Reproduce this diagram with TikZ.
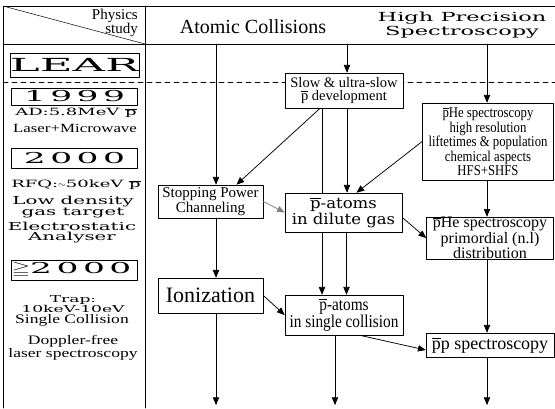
\documentclass[tikz,border=0pt]{standalone}
\usepackage{amssymb,amsmath}
\usepackage{fontspec}
\setmainfont{Liberation Serif}
\newfontfamily\narrowrm[FakeStretch=0.85]{Liberation Serif}
\newfontfamily\widerm[FakeStretch=1.35]{Liberation Serif}
\newfontfamily\midfont[FakeStretch=1.1]{DejaVu Serif}
\newfontfamily\widefont[FakeStretch=1.8]{DejaVu Serif}
\newfontfamily\yearfont[FakeStretch=2.5]{DejaVu Serif}
\newfontfamily\spacedfont[FakeStretch=2.3,LetterSpace=30]{DejaVu Serif}
\usetikzlibrary{arrows}
\newcommand{\fsz}[2]{\fontsize{#1}{#2}\selectfont}
\newcommand{\pbar}{$\overline{\mbox{p}}$}

\begin{document}
\begin{tikzpicture}[line cap=round,line join=round,>=triangle 45,x=1.0pt,y=-1.0pt,
    box/.style={draw,fill=white,line width=0.7pt,inner sep=0pt,align=center},
    txt/.style={inner sep=0pt,align=center},
    arr/.style={->,line width=0.75pt}]
      \useasboundingbox (0,0) rectangle (555,408);
      \draw[line width=0.7pt] (555,6) -- (3,6) -- (3,408);
      \draw[line width=0.7pt] (145,6) -- (145,408);
      \draw[line width=0.7pt] (3,44) -- (555,44);
      \draw[line width=0.5pt] (3,6) -- (145,44);
      \draw[line width=0.6pt,dash pattern=on 5pt off 4pt] (3,82) -- (555,82);

      \node[txt,align=right,anchor=east,font=\fsz{15}{8.5}] (physics) at (138,23) {Physics\\study};
      \node[txt,font=\fsz{20}{20}] (atomic) at (253,27) {Atomic Collisions};
      \node[txt,font=\widefont\fsz{12.5}{14}] (precision) at (462,25) {High Precision\\Spectroscopy};

      \node[box,minimum width=125pt,minimum height=24pt,font=\yearfont\fsz{18}{18}] (lear) at (74.5,65) {LEAR};
      \node[box,minimum width=126pt,minimum height=17pt,font=\spacedfont\fsz{15}{15}] (year1999) at (74.5,96.5) {1999};
      \node[txt,font=\widefont\fsz{10}{10}] (adtext) at (76,113) {AD:5.8MeV \pbar};
      \node[txt,font=\widerm\fsz{12.5}{13}] (lasertext) at (75,128) {Laser+Microwave};
      \node[box,minimum width=126pt,minimum height=20pt,font=\spacedfont\fsz{15}{15}] (year2000) at (74.5,158) {2000};
      \node[txt,font=\widefont\fsz{10}{10}] (rfqtext) at (76,185) {RFQ:$\sim$50keV \pbar};
      \node[txt,font=\widefont\fsz{11}{11}] (gastext) at (73,207) {Low density\\gas target};
      \node[txt,font=\widefont\fsz{11}{10}] (analysertext) at (72,233) {Electrostatic\\Analyser};
      \node[box,minimum width=126pt,minimum height=20pt,font=\spacedfont\fsz{15}{15}] (yearlater) at (74.5,270) {\hspace*{-6pt}\scalebox{1.6}[1]{$\geqq$}2000};
      \node[txt,font=\widefont\fsz{9.5}{9.5}] (traptext) at (73,304) {Trap:\\10keV-10eV};
      \node[txt,font=\widerm\fsz{13}{13}] (singletext) at (72,320) {Single Collision};
      \node[txt,font=\widerm\fsz{13}{13}] (dopplertext) at (73,348) {Doppler-free\\laser spectroscopy};

      \node[box,minimum width=118pt,minimum height=35pt,font=\fsz{14.5}{13}] (slow) at (344,90.5) {Slow \& ultra-slow\\\pbar{} development};
      \node[box,minimum width=131pt,minimum height=77pt,font=\narrowrm\fsz{15}{12.5}] (phe) at (488,141.5) {\pbar He spectroscopy\\high resolution\\liftetimes \& population\\chemical aspects\\HFS+SHFS};
      \node[box,minimum width=105pt,minimum height=33pt,font=\fsz{15}{15}] (stopping) at (210.5,201.5) {Stopping Power\\Channeling};
      \node[box,minimum width=117pt,minimum height=39pt,font=\midfont\fsz{15}{16}] (dilute) at (343.5,212.5) {\pbar-atoms\\in dilute gas};
      \node[box,minimum width=127pt,minimum height=40pt,font=\fsz{16}{12.5}] (primordial) at (490,238) {\pbar He spectroscopy\\primordial (n.l)\\distribution};
      \node[box,minimum width=105pt,minimum height=35pt,font=\fsz{22}{22}] (ionization) at (210.5,295.5) {Ionization};
      \node[box,minimum width=118pt,minimum height=40pt,font=\narrowrm\fsz{18}{14}] (collision) at (344,315) {\pbar-atoms\\in single collision};
      \node[box,minimum width=128pt,minimum height=24pt,font=\fsz{18}{18}] (pp) at (490,345) {\pbar p spectroscopy};

      \coordinate (atomtop) at (216,44);
      \coordinate (slowtop) at (347,44);
      \coordinate (phetop) at (487,44);
      \coordinate (atomend) at (216,405);
      \coordinate (collend) at (335,405);
      \coordinate (ppend) at (487,405);
      \draw[arr] (atomtop) -- (atomtop |- stopping.north);
      \draw[arr] (slowtop) -- (slowtop |- slow.north);
      \draw[arr] (phetop) -- (phetop |- phe.north);
      \draw[arr] ([xshift=-24pt]slow.south) -- ([xshift=26pt]stopping.north);
      \draw[line width=0.75pt] ([xshift=-22pt]slow.south) -- ([xshift=-22pt]slow.south |- dilute.north);
      \draw[arr] ([xshift=-21.5pt]dilute.south) -- ([xshift=-22pt]collision.north);
      \draw[arr] ([xshift=3pt]slow.south) -- ([xshift=3pt]slow.south |- dilute.north);
      \draw[arr] ([xshift=3pt]dilute.south) -- ([xshift=3pt]dilute.south |- collision.north);
      \draw[arr] (phe.west) -- ([xshift=13pt]dilute.north);
      \draw[arr,gray] (stopping.east) -- (dilute.west);
      \draw[arr] ([yshift=-5pt]dilute.east) -- (primordial.west);
      \draw[arr] (phe.south -| phetop) -- (primordial.north -| phetop);
      \draw[arr] (stopping.south -| atomtop) -- (ionization.north -| atomtop);
      \draw[arr] (ionization.east) -- (collision.west);
      \draw[arr] ([xshift=16pt]collision.south) -- ([yshift=-5pt]pp.west);
      \draw[arr] (primordial.south -| phetop) -- (pp.north -| phetop);
      \draw[arr] (ionization.south -| atomend) -- (atomend);
      \draw[arr] (collision.south -| collend) -- (collend);
      \draw[arr] (pp.south -| ppend) -- (ppend);
\end{tikzpicture}
\end{document}
